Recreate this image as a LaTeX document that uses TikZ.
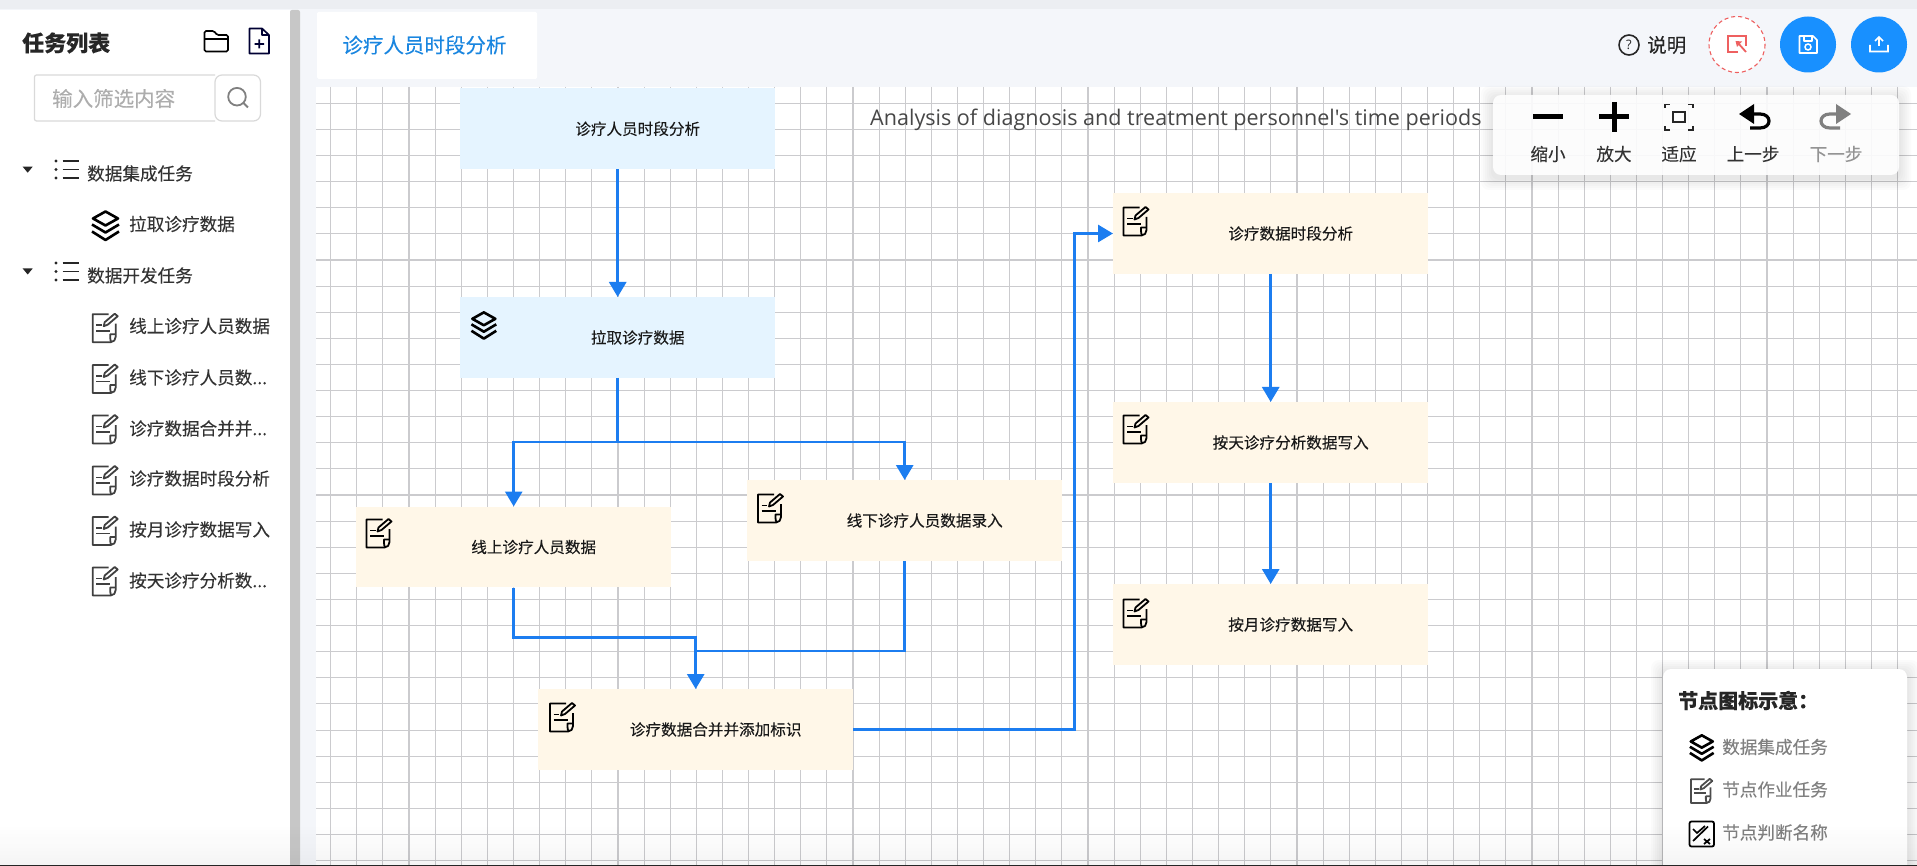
\documentclass[tikz,border=0pt]{standalone}
\usepackage{fontspec}
\setmainfont{Noto Sans CJK SC}[FakeBold=0.1]
\newfontfamily\latinfont{Open Sans}
\usetikzlibrary{arrows.meta,calc}
\definecolor{pagebg}{HTML}{F4F6FA}
\definecolor{topbg}{HTML}{ECEEF2}
\definecolor{gridc}{HTML}{CBCBCE}
\definecolor{bluenode}{HTML}{E5F4FF}
\definecolor{yellownode}{HTML}{FFF7E8}
\definecolor{edgeblue}{HTML}{1C7DF0}
\definecolor{btnblue}{HTML}{1890FF}
\definecolor{tabblue}{HTML}{1A86E0}
\definecolor{dtext}{HTML}{333333}
\definecolor{iconred}{HTML}{EE6060}
\tikzset{
  x=1pt,y=-1pt,
  flownode/.style={minimum width=315pt,minimum height=80.6pt,inner sep=0pt,anchor=north west,font=\fontsize{15.6}{18}\selectfont,text=black!90},
  bluebox/.style={flownode,fill=bluenode},
  yellowbox/.style={flownode,fill=yellownode},
  flowarrow/.style={draw=edgeblue,line width=2.8pt,-{Triangle[length=15pt,width=17pt]}},
  flowline/.style={draw=edgeblue,line width=2.8pt},
  side/.style={anchor=west,inner sep=0pt,text=dtext,font=\fontsize{17.6}{20}\selectfont},
  tool/.style={inner sep=0pt,text=dtext,font=\fontsize{17.6}{20}\selectfont},
  legend/.style={anchor=west,inner sep=0pt,text=black!50,font=\fontsize{17.6}{20}\selectfont},
}
\newcommand{\softshadow}[4]{% x1 y1 x2 y2
  \foreach \r in {12,10,8,6,4,2} {
    \fill[black,opacity=0.014,rounded corners=8pt] ({#1-\r},{#2-\r+3}) rectangle ({#3+\r},{#4+\r+3});
  }}
\newcommand{\icondoc}[4]{% x y scale colour
  \begin{scope}[shift={(#1,#2)},x=#3pt,y=-#3pt,draw=#4,line width=1.8pt,line join=round]
    \draw (16,1.5) -- (0,1.5) -- (0,29.5) -- (18,29.5) .. controls (21,29.5) and (23,27) .. (23,24) -- (23,11);
    \draw (23,21.5) -- (17.5,21.5) -- (17.5,25) .. controls (17.5,27) and (18,29) .. (19,29.5);
    \draw (3.5,12.5) -- (9,12.5) (3.5,18) -- (17.5,18);
    \draw (11,13.5) -- (12,9.5) -- (22,1) -- (25,3.5) -- (15,12) -- cycle;
  \end{scope}}
\newcommand{\iconlayers}[3]{% x y scale
  \begin{scope}[shift={(#1,#2)},x=#3pt,y=-#3pt,draw=black,line width=2.6pt,line join=round]
    \draw (14.5,1.5) -- (27,8.5) -- (14.5,15.5) -- (2,8.5) -- cycle;
    \draw (1,14.5) -- (14.5,22.5) -- (28,14.5);
    \draw (1,21.5) -- (14.5,30) -- (28,21.5);
  \end{scope}}
\newcommand{\iconlist}[2]{%
  \begin{scope}[shift={(#1,#2)}]
    \fill[black!85] (1.5,1.5) circle (1.6) (1.5,10) circle (1.6) (1.5,18.5) circle (1.6);
    \draw[black!85,line width=1.8pt] (8,1.5) -- (24,1.5) (8,10) -- (24,10) (8,18.5) -- (24,18.5);
  \end{scope}}
\begin{document}
\begin{tikzpicture}
\useasboundingbox (0,0) rectangle (1917,866);
\fill[pagebg] (0,0) rectangle (1917,866);
\fill[topbg] (0,0) rectangle (1917,9);
\fill[white] (0,10) rectangle (290,866);
\fill[black!22,rounded corners=2pt] (290,10) rectangle (300,866);
% canvas
\fill[white] (316,87) rectangle (1917,866);
\foreach \i in {0,...,60} {\draw[gridc,line width=1.1pt] ({330.7+\i*26.115},87) -- ({330.7+\i*26.115},866);}
\foreach \i in {0,...,29} {\draw[gridc,line width=1.1pt] (316,{103.3+\i*26.115}) -- (1917,{103.3+\i*26.115});}
% tab
\fill[white,rounded corners=1.5pt] (317,12) rectangle (537,79);
\node[anchor=center,inner sep=0pt,text=tabblue,font=\fontsize{20.5}{24}\selectfont] (tabt) at (424.5,45) {诊疗人员时段分析};
% sidebar
\node[anchor=west,inner sep=0pt,font=\fontsize{22}{26}\selectfont\bfseries,text=black!85] (sidetitle) at (22,43) {任务列表};
\draw[black,line width=1.7pt,rounded corners=1.5pt] (204.5,36) -- (204.5,31) -- (214,31) -- (217,35) -- (228,35) -- (228,51.5) -- (204.5,51.5) -- cycle (204.5,39) -- (228,39);
\draw[black!80!blue,line width=1.7pt,line join=round] (262,28.5) -- (249.5,28.5) -- (249.5,53.5) -- (269,53.5) -- (269,35) -- cycle (262,28.5) -- (262,35) -- (269,35) (254.5,44) -- (264,44) (259.2,39.5) -- (259.2,48.5);
\draw[black!15,line width=1.2pt,rounded corners=2pt] (215,75) -- (34.5,75) -- (34.5,121) -- (215,121);
\node[anchor=west,inner sep=0pt,text=black!32,font=\fontsize{20.5}{24}\selectfont] (placeholder) at (52,98.5) {输入筛选内容};
\draw[black!15,fill=white,line width=1.2pt,rounded corners=7pt] (215,75) rectangle (260.5,121);
\draw[black!50,line width=1.8pt] (237,96.7) circle (8.8) (243.5,103) -- (248,107.5);
\fill[black!85] (22.7,166.7) -- (32.7,166.7) -- (27.7,172.7) -- cycle;
\fill[black!85] (22.7,268.5) -- (32.7,268.5) -- (27.7,274.5) -- cycle;
\iconlist{54.5}{159.5}
\iconlist{54.5}{261.5}
\node[side] (s1) at (87,173.5) {数据集成任务};
\iconlayers{91}{210}{1}
\node[side] (s2) at (129,224) {拉取诊疗数据};
\node[side] (s3) at (87,275.5) {数据开发任务};
\node[side] (s4) at (129,326) {线上诊疗人员数据};
\node[side] (s5) at (129,377.5) {线下诊疗人员数...};
\node[side] (s6) at (129,428.5) {诊疗数据合并并...};
\node[side] (s7) at (129,478.5) {诊疗数据时段分析};
\node[side] (s8) at (129,529.5) {按月诊疗数据写入};
\node[side] (s9) at (129,580.5) {按天诊疗分析数...};
\foreach \y in {312.7,363.5,414,465,515.5,566} {\icondoc{92.7}{\y}{1}{black!75}}
% nodes
\node[bluebox] (n1) at (460,88.3) {\hspace*{40pt}诊疗人员时段分析};
\node[bluebox] (n2) at (460,297) {\hspace*{40pt}拉取诊疗数据};
\node[yellowbox] (n3) at (356,506.5) {\hspace*{40pt}线上诊疗人员数据};
\node[yellowbox] (n4) at (747,480) {\hspace*{40pt}线下诊疗人员数据录入};
\node[yellowbox] (n5) at (538,689) {\hspace*{40pt}诊疗数据合并并添加标识};
\node[yellowbox] (n6) at (1113,193) {\hspace*{40pt}诊疗数据时段分析};
\node[yellowbox] (n7) at (1113,402) {\hspace*{40pt}按天诊疗分析数据写入};
\node[yellowbox] (n8) at (1113,584) {\hspace*{40pt}按月诊疗数据写入};
\iconlayers{470.5}{311}{0.92}
\icondoc{366.5}{518}{1}{black}
\icondoc{758}{493}{1}{black}
\icondoc{550}{702}{1}{black}
\icondoc{1123.5}{206}{1}{black}
\icondoc{1123.5}{414}{1}{black}
\icondoc{1123.5}{598}{1}{black}
% connectors
\draw[flowarrow] (n1.south) -- (n2.north);
\coordinate (b1) at ($(n2.south)+(0,64)$);
\draw[flowarrow] (n2.south) -- (b1) -| (n3.north);
\draw[flowarrow] (b1) -| (n4.north);
\coordinate (b2) at ($(n3.south)+(0,50)$);
\draw[flowarrow] (n3.south) -- (b2) -| (n5.north);
\coordinate (b3) at ($(n4.south)+(0,90)$);
\draw[flowline] (n4.south) -- (b3) -| ($(n5.north)+(0,-25)$);
\coordinate (b4) at ($(n5.east)+(221,0)$);
\draw[flowarrow] (n5.east) -- (b4) |- (n6.west);
\draw[flowarrow] (n6.south) -- (n7.north);
\draw[flowarrow] (n7.south) -- (n8.north);
% title
\node[anchor=west,inner sep=0pt,text=black!72,font=\latinfont\fontsize{21.55}{24}\selectfont] (title) at (870,120) {Analysis of diagnosis and treatment personnel's time periods};
% header right
\draw[black!85,line width=1.6pt] (1629,45) circle (10);
\node[inner sep=0pt,text=black!85,font=\latinfont\fontsize{13}{14}\selectfont] (q) at (1629,45) {?};
\node[anchor=west,inner sep=0pt,text=black!85,font=\fontsize{19.5}{22}\selectfont] (help) at (1647,45) {说明};
\draw[iconred,fill=white,line width=1.1pt,dash pattern=on 4pt off 3pt] (1737,44.5) circle (28);
\draw[iconred,line width=1.8pt] (1738,52) -- (1728,52) -- (1728,36) -- (1746,36) -- (1746,46);
\draw[iconred,line width=1.8pt] (1738,43) -- (1746,52);
\fill[iconred] (1735.5,41) -- (1742,41.5) -- (1737,47) -- cycle;
\fill[btnblue] (1808,44.5) circle (28);
\fill[btnblue] (1879,44.5) circle (28);
\draw[white,line width=1.6pt,line join=round] (1799.5,36) -- (1813,36) -- (1817,40) -- (1817,53) -- (1799.5,53) -- cycle (1804,36) -- (1804,41) -- (1812,41) -- (1812,36);
\draw[white,line width=1.5pt] (1808,47) circle (3);
\draw[white,line width=1.6pt] (1870,45) -- (1870,51.5) -- (1888,51.5) -- (1888,45) (1879,46) -- (1879,37) (1875,41) -- (1879,37) -- (1883,41);
% toolbar
\softshadow{1493}{95}{1899}{175}
\fill[white,fill opacity=0.9,rounded corners=8pt] (1493,95) rectangle (1899,175);
\draw[black,line width=5pt] (1533,117) -- (1563,117);
\draw[black,line width=5pt] (1599,117) -- (1629,117) (1614,102) -- (1614,132);
\draw[black!85,line width=1.6pt] (1673,112) rectangle (1685,122);
\draw[black!85,line width=1.6pt] (1665,108) -- (1665,104.5) -- (1670,104.5) (1688,104.5) -- (1693,104.5) -- (1693,108) (1693,126) -- (1693,130) -- (1688,130) (1670,130) -- (1665,130) -- (1665,126);
\draw[black,line width=3.2pt] (1752,114) -- (1760,114) .. controls (1772,114) and (1772,128) .. (1760,128) -- (1750,128);
\fill[black] (1739,114) -- (1754,104) -- (1754,124) -- cycle;
\draw[black!50,line width=3.2pt] (1838,114) -- (1830,114) .. controls (1818,114) and (1818,128) .. (1830,128) -- (1840,128);
\fill[black!50] (1851,114) -- (1836,104) -- (1836,124) -- cycle;
\node[tool] (t1) at (1548,154) {缩小};
\node[tool] (t2) at (1614,154) {放大};
\node[tool] (t3) at (1679,154) {适应};
\node[tool] (t4) at (1753,154) {上一步};
\node[tool,text=black!42] (t5) at (1836,154) {下一步};
% legend
\softshadow{1663}{669}{1907}{890}
\fill[white,rounded corners=8pt] (1663,669) rectangle (1907,890);
\node[anchor=west,inner sep=0pt,font=\fontsize{20}{24}\selectfont\bfseries,text=black!85] (lt) at (1678,700.5) {节点图标示意：};
\iconlayers{1689}{734}{0.88}
\icondoc{1691}{778}{0.85}{black!70}
\draw[black,line width=1.8pt,rounded corners=2pt] (1689.5,821.5) rectangle (1714,846.5);
\draw[black,line width=1.7pt] (1693,829) -- (1697,833) -- (1705,826) (1693,841) -- (1708,826.5) (1704,839) -- (1710,844) (1710,839) -- (1704,844);
\node[legend] (l1) at (1722,747) {数据集成任务};
\node[legend] (l2) at (1722,789.5) {节点作业任务};
\node[legend] (l3) at (1722,832.5) {节点判断名称};
% bottom fade
\foreach \i in {0,...,11} {\fill[black,opacity={0.0035*\i}] (0,{823+\i*3.5}) rectangle (1917,{826.6+\i*3.5});}
\fill[black!85] (0,865) rectangle (1917,866);
\end{tikzpicture}
\end{document}
